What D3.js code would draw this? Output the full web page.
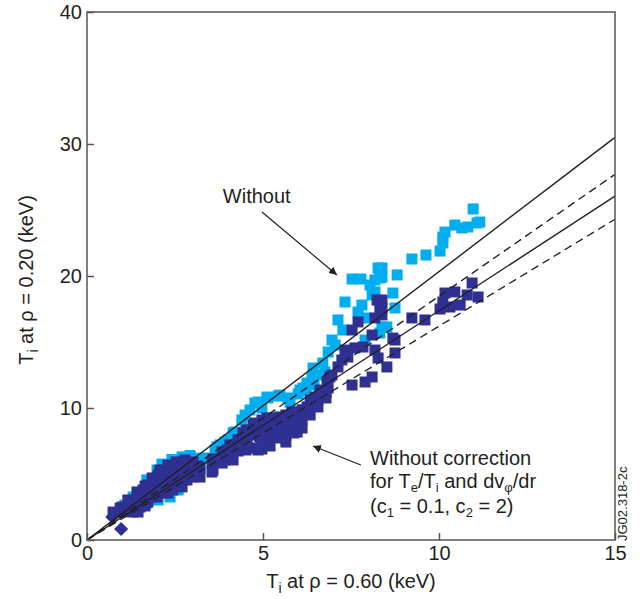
<!DOCTYPE html>
<html>
<head>
<meta charset="utf-8">
<script src="https://cdn.jsdelivr.net/npm/d3@7"></script>
<style>
	body { margin: 0; background: #fff; }
	svg { display: block; font-family: "Liberation Sans", Arial, sans-serif; }
</style>
</head>
<body>
<svg></svg>
<script>
const svgWidth = 640;
const svgHeight = 599;
const plotLeft = 87;
const plotRight = 615;
const plotTop = 12;
const plotBottom = 540;

const xTicks = [0, 5, 10, 15];
const yTicks = [0, 10, 20, 30, 40];

// lines through origin, value at x = 15
const solidLineEnds = [30.5, 26.05];
const dashedLineEnds = [27.7, 24.3];

// light blue squares
const cyanPoints = [
	[1.08, 2.65], [1.31, 3.26], [1.51, 3.48], [1.70, 4.55], [1.85, 4.17], [1.99, 5.30],
	[2.13, 5.75], [2.41, 6.10], [2.70, 6.30], [2.93, 6.40], [3.15, 6.20], [3.21, 5.53],
	[1.70, 2.80], [2.02, 3.03], [2.36, 3.26], [2.59, 3.79], [3.69, 7.05],
	[3.35, 6.21], [3.64, 6.82], [3.78, 7.20], [3.92, 7.42], [4.01, 7.58], [4.15, 8.11],
	[4.20, 8.18], [4.40, 9.09], [4.49, 9.47], [4.63, 9.85], [4.77, 10.38], [4.86, 10.45],
	[4.97, 10.0], [5.11, 10.83], [5.14, 10.76], [5.43, 10.91], [5.48, 10.98], [5.71, 10.76],
	[5.77, 10.45], [6.00, 11.06], [6.05, 11.36], [6.22, 11.36], [6.25, 11.89], [6.45, 11.74],
	[6.53, 12.50], [6.76, 12.73],
	[6.14, 11.52], [6.39, 12.27], [6.42, 13.03], [6.70, 13.41], [6.85, 14.24], [6.96, 15.15],
	[7.05, 14.77], [7.27, 15.91], [7.13, 16.67], [7.33, 18.03], [7.53, 19.77], [7.78, 19.77],
	[8.18, 19.70], [8.32, 19.85], [8.27, 20.61], [8.38, 20.61], [8.38, 19.92], [8.04, 19.32],
	[8.10, 18.56], [8.18, 18.79], [8.69, 18.71], [7.81, 17.80], [7.70, 17.27], [8.75, 17.58],
	[7.90, 16.82], [8.52, 16.14], [8.38, 16.14], [8.32, 15.68], [7.90, 15.15], [8.81, 20.08],
	[9.23, 21.29], [9.63, 21.59], [10.03, 21.89], [10.11, 22.50], [10.11, 22.95], [10.17, 23.33],
	[10.45, 23.86], [10.65, 23.64], [10.82, 23.71], [11.08, 24.02], [11.16, 24.09], [10.97, 25.08]
];

// dark blue squares
const navyPoints = [
	[0.74, 2.12], [0.94, 2.42], [0.94, 2.12], [1.00, 2.50], [1.08, 2.27], [1.16, 3.03],
	[1.16, 2.42], [1.22, 2.65], [1.36, 3.03], [1.42, 3.64], [1.42, 2.88], [1.42, 2.27],
	[1.51, 3.41], [1.59, 3.79], [1.65, 4.09], [1.65, 3.33], [1.65, 2.58], [1.73, 4.17],
	[1.85, 4.70], [1.85, 3.94], [1.85, 3.26], [1.88, 4.55], [2.02, 4.92], [2.07, 5.30],
	[2.07, 4.55], [2.07, 3.79], [2.16, 5.30], [2.30, 5.68], [2.30, 4.92], [2.30, 4.17],
	[2.30, 3.56], [2.36, 5.53], [2.53, 5.91], [2.53, 5.15], [2.53, 4.39], [2.56, 5.83],
	[2.76, 5.91], [2.76, 5.30], [2.76, 4.55], [2.78, 6.06], [2.98, 5.83], [2.98, 5.15],
	[3.01, 5.91], [3.15, 5.61], [3.15, 4.85], [3.21, 5.45], [3.21, 4.77], [3.01, 4.77],
	[2.84, 4.55], [2.70, 4.02], [2.44, 3.79], [2.22, 3.56], [1.99, 3.26], [1.73, 2.88],
	[1.51, 2.50], [1.45, 2.12], [1.28, 2.12], [1.99, 4.32], [2.27, 4.55], [2.56, 5.08],
	[2.78, 5.30], [2.27, 4.02], [1.99, 3.79], [1.73, 3.56],
	[3.55, 5.83], [3.55, 5.15], [3.58, 6.14], [3.58, 5.30], [3.84, 6.67], [3.84, 5.83],
	[3.92, 6.06], [3.98, 6.82], [4.01, 6.67], [4.06, 7.20], [4.06, 6.36], [4.15, 6.82],
	[4.15, 6.06], [4.29, 7.58], [4.29, 6.74], [4.35, 7.58], [4.43, 8.11], [4.52, 8.33],
	[4.52, 7.58], [4.52, 6.82], [4.55, 7.35], [4.63, 8.33], [4.72, 8.71], [4.74, 7.95],
	[4.74, 6.97], [4.77, 8.86], [4.86, 6.82], [4.91, 7.80], [4.97, 9.09], [4.97, 8.33],
	[4.97, 7.58], [4.97, 6.89], [5.11, 9.24], [5.11, 7.20], [5.20, 9.24], [5.20, 8.48],
	[5.20, 7.73], [5.20, 7.12], [5.40, 7.95], [5.43, 9.24], [5.43, 8.48], [5.43, 7.73],
	[5.48, 9.32], [5.63, 8.48], [5.65, 9.47], [5.65, 8.71], [5.65, 7.95], [5.65, 7.42],
	[5.77, 9.32], [5.82, 9.70], [5.88, 9.62], [5.88, 8.86], [5.88, 8.11], [5.97, 8.18],
	[6.05, 9.62], [6.05, 8.71], [6.11, 9.85], [6.11, 9.09], [6.11, 8.48], [6.14, 9.85],
	[6.25, 10.08], [6.34, 10.61], [6.34, 10.08], [6.34, 9.47], [6.42, 10.45], [6.56, 10.61],
	[6.56, 10.08], [6.62, 10.98], [6.62, 11.36], [6.79, 11.21], [6.79, 10.76], [6.85, 11.52],
	[6.90, 12.35],
	[6.48, 10.83], [6.82, 11.97], [6.96, 12.50], [7.13, 13.11], [7.24, 13.64], [7.33, 14.39],
	[7.41, 13.86], [7.61, 14.55], [7.84, 14.62], [8.18, 14.39], [8.27, 13.79], [8.52, 13.11],
	[8.10, 12.35], [7.90, 11.97], [7.53, 11.74], [8.24, 18.18], [8.32, 17.42], [8.18, 16.82],
	[7.70, 16.52], [7.53, 15.91], [8.10, 15.53], [8.75, 15.15], [8.69, 15.30], [8.75, 14.17],
	[8.38, 18.18], [8.38, 17.58], [8.38, 17.05], [9.23, 16.82], [9.60, 16.67],
	[10.94, 19.47], [11.11, 18.41], [10.80, 18.56], [10.45, 18.79], [10.17, 18.71], [10.11, 18.03],
	[10.03, 17.50], [10.31, 17.65], [10.60, 17.80]
];

// dark blue diamonds near the origin
const diamondPoints = [[0.72, 1.74], [0.97, 0.83]];

const svg = d3.select("svg")
				.attr("width", svgWidth)
				.attr("height", svgHeight);

const xScale = d3.scaleLinear()
				.domain([0, 15])
				.range([plotLeft, plotRight]);
const yScale = d3.scaleLinear()
				.domain([0, 40])
				.range([plotBottom, plotTop]);

svg
	.append("defs")
	.append("marker")
		.attr("id", "arrow")
		.attr("viewBox", "0 0 10 10")
		.attr("refX", 10)
		.attr("refY", 5)
		.attr("markerWidth", 8)
		.attr("markerHeight", 8)
		.attr("markerUnits", "userSpaceOnUse")
		.attr("orient", "auto")
	.append("path")
		.attr("d", "M0,0L10,5L0,10Z")
		.attr("fill", "#231f20");

// Data points
svg
	.append("g")
	.selectAll("rect")
	.data(cyanPoints)
	.enter()
	.append("rect")
		.attr("x", d => xScale(d[0]) - 5.5)
		.attr("y", d => yScale(d[1]) - 5.5)
		.attr("width", 11)
		.attr("height", 11)
		.attr("fill", "#00aeef");

svg
	.append("g")
	.selectAll("rect")
	.data(navyPoints)
	.enter()
	.append("rect")
		.attr("x", d => xScale(d[0]) - 5.5)
		.attr("y", d => yScale(d[1]) - 5.5)
		.attr("width", 11)
		.attr("height", 11)
		.attr("fill", "#2e3192");

svg
	.append("g")
	.selectAll("rect")
	.data(diamondPoints)
	.enter()
	.append("rect")
		.attr("x", -5)
		.attr("y", -5)
		.attr("width", 10)
		.attr("height", 10)
		.attr("transform", d => `translate(${xScale(d[0])}, ${yScale(d[1])}) rotate(45)`)
		.attr("fill", "#2e3192");

// Reference lines
svg
	.append("g")
	.selectAll("line")
	.data(solidLineEnds.map(v => ({ v: v, dash: null })).concat(dashedLineEnds.map(v => ({ v: v, dash: "8,5" }))))
	.enter()
	.append("line")
		.attr("x1", xScale(0))
		.attr("y1", yScale(0))
		.attr("x2", xScale(15))
		.attr("y2", d => yScale(d.v))
		.attr("stroke", "#231f20")
		.attr("stroke-width", 1.4)
		.attr("stroke-dasharray", d => d.dash);

// Axes
let xAxis = d3.axisBottom(xScale)
				.tickValues(xTicks)
				.tickSize(-7)
				.tickSizeOuter(0)
				.tickPadding(6);
let yAxis = d3.axisLeft(yScale)
				.tickValues(yTicks)
				.tickSize(-7)
				.tickSizeOuter(0)
				.tickPadding(5);

svg
	.append("g")
	.call(xAxis)
	.attr("transform", `translate (0, ${plotBottom})`)
	.call(g => g.select(".domain").remove());

svg
	.append("g")
	.call(yAxis)
	.attr("transform", `translate (${plotLeft}, 0)`)
	.call(g => g.select(".domain").remove());

svg
	.selectAll(".tick line")
	.attr("stroke", "#555")
	.attr("stroke-width", 1.5);

svg
	.selectAll(".tick text")
	.attr("font-family", "'Liberation Sans', Arial, sans-serif")
	.attr("font-size", 20)
	.attr("fill", "#231f20");

svg
	.append("rect")
	.attr("x", plotLeft)
	.attr("y", plotTop)
	.attr("width", plotRight - plotLeft)
	.attr("height", plotBottom - plotTop)
	.attr("fill", "none")
	.attr("stroke", "#555")
	.attr("stroke-width", 1.5);

// Axes labels
// X axis
let xLabel = svg
	.append("text")
	.attr("x", (plotLeft + plotRight) / 2)
	.attr("y", 588)
	.attr("font-size", 20)
	.attr("fill", "#231f20")
	.attr("text-anchor", "middle");
xLabel.append("tspan").text("T");
xLabel.append("tspan").text("i").attr("font-size", 14).attr("dy", 5);
xLabel.append("tspan").text(" at ρ = 0.60 (keV)").attr("dy", -5);

// Y axis
let yLabel = svg
	.append("text")
	.attr("transform", "translate(33, 280) rotate(-90)")
	.attr("font-size", 20)
	.attr("fill", "#231f20")
	.attr("text-anchor", "middle");
yLabel.append("tspan").text("T");
yLabel.append("tspan").text("i").attr("font-size", 14).attr("dy", 5);
yLabel.append("tspan").text(" at ρ = 0.20 (keV)").attr("dy", -5);

// Annotations
svg
	.append("text")
	.text("Without")
	.attr("x", xScale(3.86))
	.attr("y", yScale(25.5))
	.attr("font-size", 20)
	.attr("fill", "#231f20");

svg
	.append("line")
	.attr("x1", xScale(4.97))
	.attr("y1", yScale(24.85))
	.attr("x2", xScale(7.10))
	.attr("y2", yScale(20.08))
	.attr("stroke", "#231f20")
	.attr("stroke-width", 1.2)
	.attr("marker-end", "url(#arrow)");

svg
	.append("line")
	.attr("x1", xScale(7.78))
	.attr("y1", yScale(5.68))
	.attr("x2", xScale(6.42))
	.attr("y2", yScale(7.12))
	.attr("stroke", "#231f20")
	.attr("stroke-width", 1.2)
	.attr("marker-end", "url(#arrow)");

let note = svg
	.append("g")
	.attr("font-size", 20)
	.attr("fill", "#231f20");

note.append("text")
	.text("Without correction")
	.attr("x", xScale(8.04))
	.attr("y", yScale(5.68));

let line2 = note.append("text")
	.attr("x", xScale(8.04))
	.attr("y", yScale(3.94));
line2.append("tspan").text("for T");
line2.append("tspan").text("e").attr("font-size", 13).attr("dy", 4);
line2.append("tspan").text("/T").attr("dy", -4);
line2.append("tspan").text("i").attr("font-size", 13).attr("dy", 4);
line2.append("tspan").text(" and dv").attr("dy", -4);
line2.append("tspan").text("φ").attr("font-size", 13).attr("dy", 4);
line2.append("tspan").text("/dr").attr("dy", -4);

let line3 = note.append("text")
	.attr("x", xScale(8.04))
	.attr("y", yScale(2.05));
line3.append("tspan").text("(c");
line3.append("tspan").text("1").attr("font-size", 13).attr("dy", 4);
line3.append("tspan").text(" = 0.1, c").attr("dy", -4);
line3.append("tspan").text("2").attr("font-size", 13).attr("dy", 4);
line3.append("tspan").text(" = 2)").attr("dy", -4);

svg
	.append("text")
	.text("JG02.318-2c")
	.attr("transform", "translate(627, 541) rotate(-90)")
	.attr("font-size", 13)
	.attr("fill", "#231f20");
</script>
</body>
</html>
